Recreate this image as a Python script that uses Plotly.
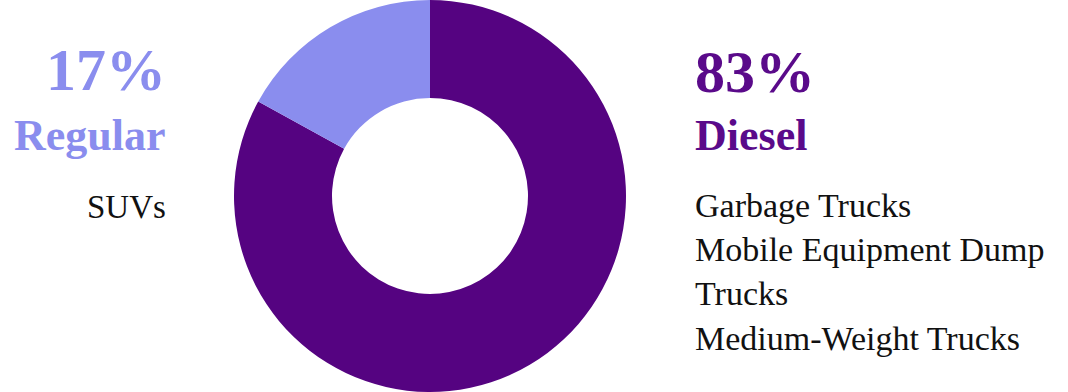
import plotly.graph_objects as go

# Fuel type split of the fleet
fuel_types = ["Diesel", "Regular"]
shares = [83, 17]
slice_colors = ["#550381", "#8A8DEE"]
diesel_vehicles = ["Garbage Trucks", "Mobile Equipment Dump", "Trucks", "Medium-Weight Trucks"]
regular_vehicles = ["SUVs"]

W, H = 1068, 392
SERIF = "Liberation Serif, Times New Roman, serif"
DIESEL_TEXT = "#5A0A8A"

fig = go.Figure(
    go.Pie(
        labels=fuel_types,
        values=shares,
        hole=0.5,
        sort=False,
        direction="clockwise",
        rotation=0,
        marker=dict(colors=slice_colors, line=dict(width=0)),
        textinfo="none",
        hoverinfo="label+percent",
        showlegend=False,
        domain=dict(x=[(430 - 196) / W, (430 + 196) / W], y=[0, 1]),
    )
)


def px(x, y):
    return x / W, 1 - y / H


annotations = []


def add(text, x, y, size, color, anchor, bold=False):
    ax, ay = px(x, y)
    annotations.append(
        dict(
            text=f"<b>{text}</b>" if bold else text,
            x=ax, y=ay, xref="paper", yref="paper",
            xanchor=anchor, yanchor="middle",
            showarrow=False, align=anchor,
            font=dict(family=SERIF, size=size, color=color),
        )
    )


# Regular (left side)
add(f"{shares[1]}%", 168, 70, 60, slice_colors[1], "right", bold=True)
add(fuel_types[1], 168, 135, 44, slice_colors[1], "right", bold=True)
add("<br>".join(regular_vehicles), 168, 207, 33, "#111111", "right")

# Diesel (right side)
add(f"{shares[0]}%", 693, 72, 60, DIESEL_TEXT, "left", bold=True)
add(fuel_types[0], 693, 135, 44, DIESEL_TEXT, "left", bold=True)
add("<br>".join(diesel_vehicles), 693, 272, 34, "#111111", "left")

fig.update_layout(
    width=W, height=H,
    margin=dict(l=0, r=0, t=0, b=0),
    paper_bgcolor="white",
    plot_bgcolor="white",
    annotations=annotations,
)

fig.write_html("out.html", config={"displayModeBar": False})
